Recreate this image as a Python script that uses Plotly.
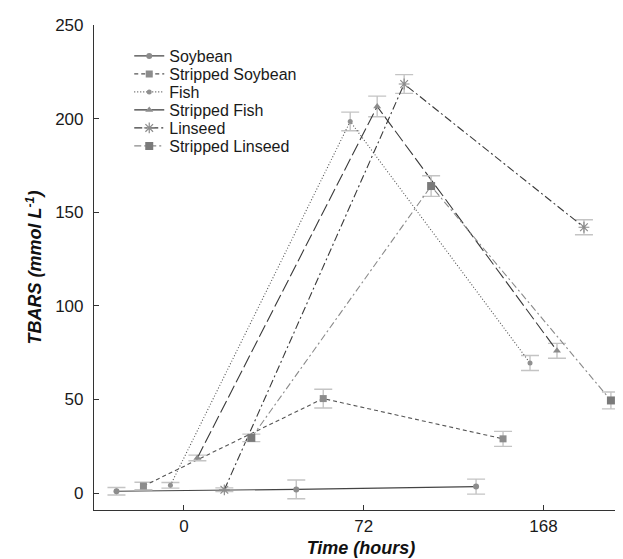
import plotly.graph_objects as go

# ---- data ----
time_labels = ["0", "72", "168"]
series_names = ["Soybean", "Stripped Soybean", "Fish", "Stripped Fish", "Linseed", "Stripped Linseed"]
soybean = [1.0, 2.0, 3.5]
soybean_err = [2.0, 5.0, 4.0]
stripped_soybean = [3.8, 50.5, 29.0]
stripped_soybean_err = [2.0, 5.0, 4.0]
fish = [4.2, 198.5, 69.5]
fish_err = [1.5, 5.0, 4.0]
stripped_fish = [18.8, 206.5, 76.0]
stripped_fish_err = [1.5, 5.5, 4.0]
linseed = [1.8, 218.5, 142.0]
linseed_err = [1.0, 5.0, 4.0]
stripped_linseed = [29.5, 164.0, 49.5]
stripped_linseed_err = [2.0, 5.5, 4.5]

values = [soybean, stripped_soybean, fish, stripped_fish, linseed, stripped_linseed]
errors = [soybean_err, stripped_soybean_err, fish_err, stripped_fish_err, linseed_err, stripped_linseed_err]

# ---- styles ----
offsets = [-0.375, -0.225, -0.075, 0.075, 0.225, 0.375]
line_colors = ["#444444", "#555555", "#555555", "#3a3a3a", "#3a3a3a", "#8a8a8a"]
dashes = ["solid", "4px,3px", "1px,2px", "13px,4px", "8px,3px,2px,3px", "7px,3px,2px,3px"]
symbols = ["circle", "square", "circle", "triangle-up", "asterisk-open", "square"]
msizes = [6, 7, 5, 7, 9, 8]
mcolors = ["#8c8c8c", "#8c8c8c", "#909090", "#8c8c8c", "#8c8c8c", "#7a7a7a"]

FONT = "Liberation Sans, Arial, sans-serif"

fig = go.Figure()
legend_rows_px = [48, 66, 84, 102, 120, 138]
plot_top, plot_bottom = 17, 502

for i, name in enumerate(series_names):
    xs = [k + offsets[i] for k in range(len(time_labels))]
    lg = "legend" if i == 0 else f"legend{i+1}"
    fig.add_trace(go.Scatter(
        x=xs, y=values[i], name=name, mode="lines+markers",
        line=dict(color=line_colors[i], width=1.1, dash=dashes[i]),
        marker=dict(symbol=symbols[i], size=msizes[i], color=mcolors[i],
                    line=dict(color=mcolors[i], width=1.2 if symbols[i] == "asterisk-open" else 0)),
        error_y=dict(type="data", array=errors[i], visible=True,
                     color="#c4c4c4", thickness=1.4, width=9),
        legend=lg,
    ))

layout_legends = {}
for i in range(6):
    key = "legend" if i == 0 else f"legend{i+1}"
    ypaper = (plot_bottom - legend_rows_px[i]) / (plot_bottom - plot_top)
    layout_legends[key] = dict(
        x=0.066, y=ypaper, xanchor="left", yanchor="middle",
        bgcolor="rgba(0,0,0,0)", borderwidth=0,
        font=dict(family=FONT, size=16, color="#1a1a1a"),
        itemwidth=30,
    )

fig.update_layout(
    width=623, height=559,
    margin=dict(l=86, r=3, t=plot_top, b=559 - plot_bottom),
    paper_bgcolor="white", plot_bgcolor="white",
    showlegend=True,
    font=dict(family=FONT, size=17, color="#1a1a1a"),
    **layout_legends,
)

fig.update_xaxes(
    range=[-0.5, 2.47], tickvals=list(range(len(time_labels))), ticktext=time_labels,
    showgrid=False, zeroline=False, showline=True, linecolor="#333333", linewidth=1.2,
    ticks="inside", ticklen=5, tickcolor="#333333",
    tickfont=dict(family=FONT, size=17, color="#1a1a1a"),
    title=dict(text="<b><i>Time (hours)</i></b>", font=dict(family=FONT, size=18, color="#111111"), standoff=6),
    automargin=False,
)
fig.update_yaxes(
    range=[-9, 250], tickvals=[0, 50, 100, 150, 200, 250],
    showgrid=False, zeroline=False, showline=True, linecolor="#333333", linewidth=1.2,
    ticks="inside", ticklen=5, tickcolor="#333333",
    tickfont=dict(family=FONT, size=17, color="#1a1a1a"),
    ticklabelstandoff=6,
    title=dict(text="<b><i>TBARS (mmol L<sup>-1</sup>)</i></b>", font=dict(family=FONT, size=18, color="#111111"), standoff=8),
    automargin=False,
)

fig.write_html("out.html")
